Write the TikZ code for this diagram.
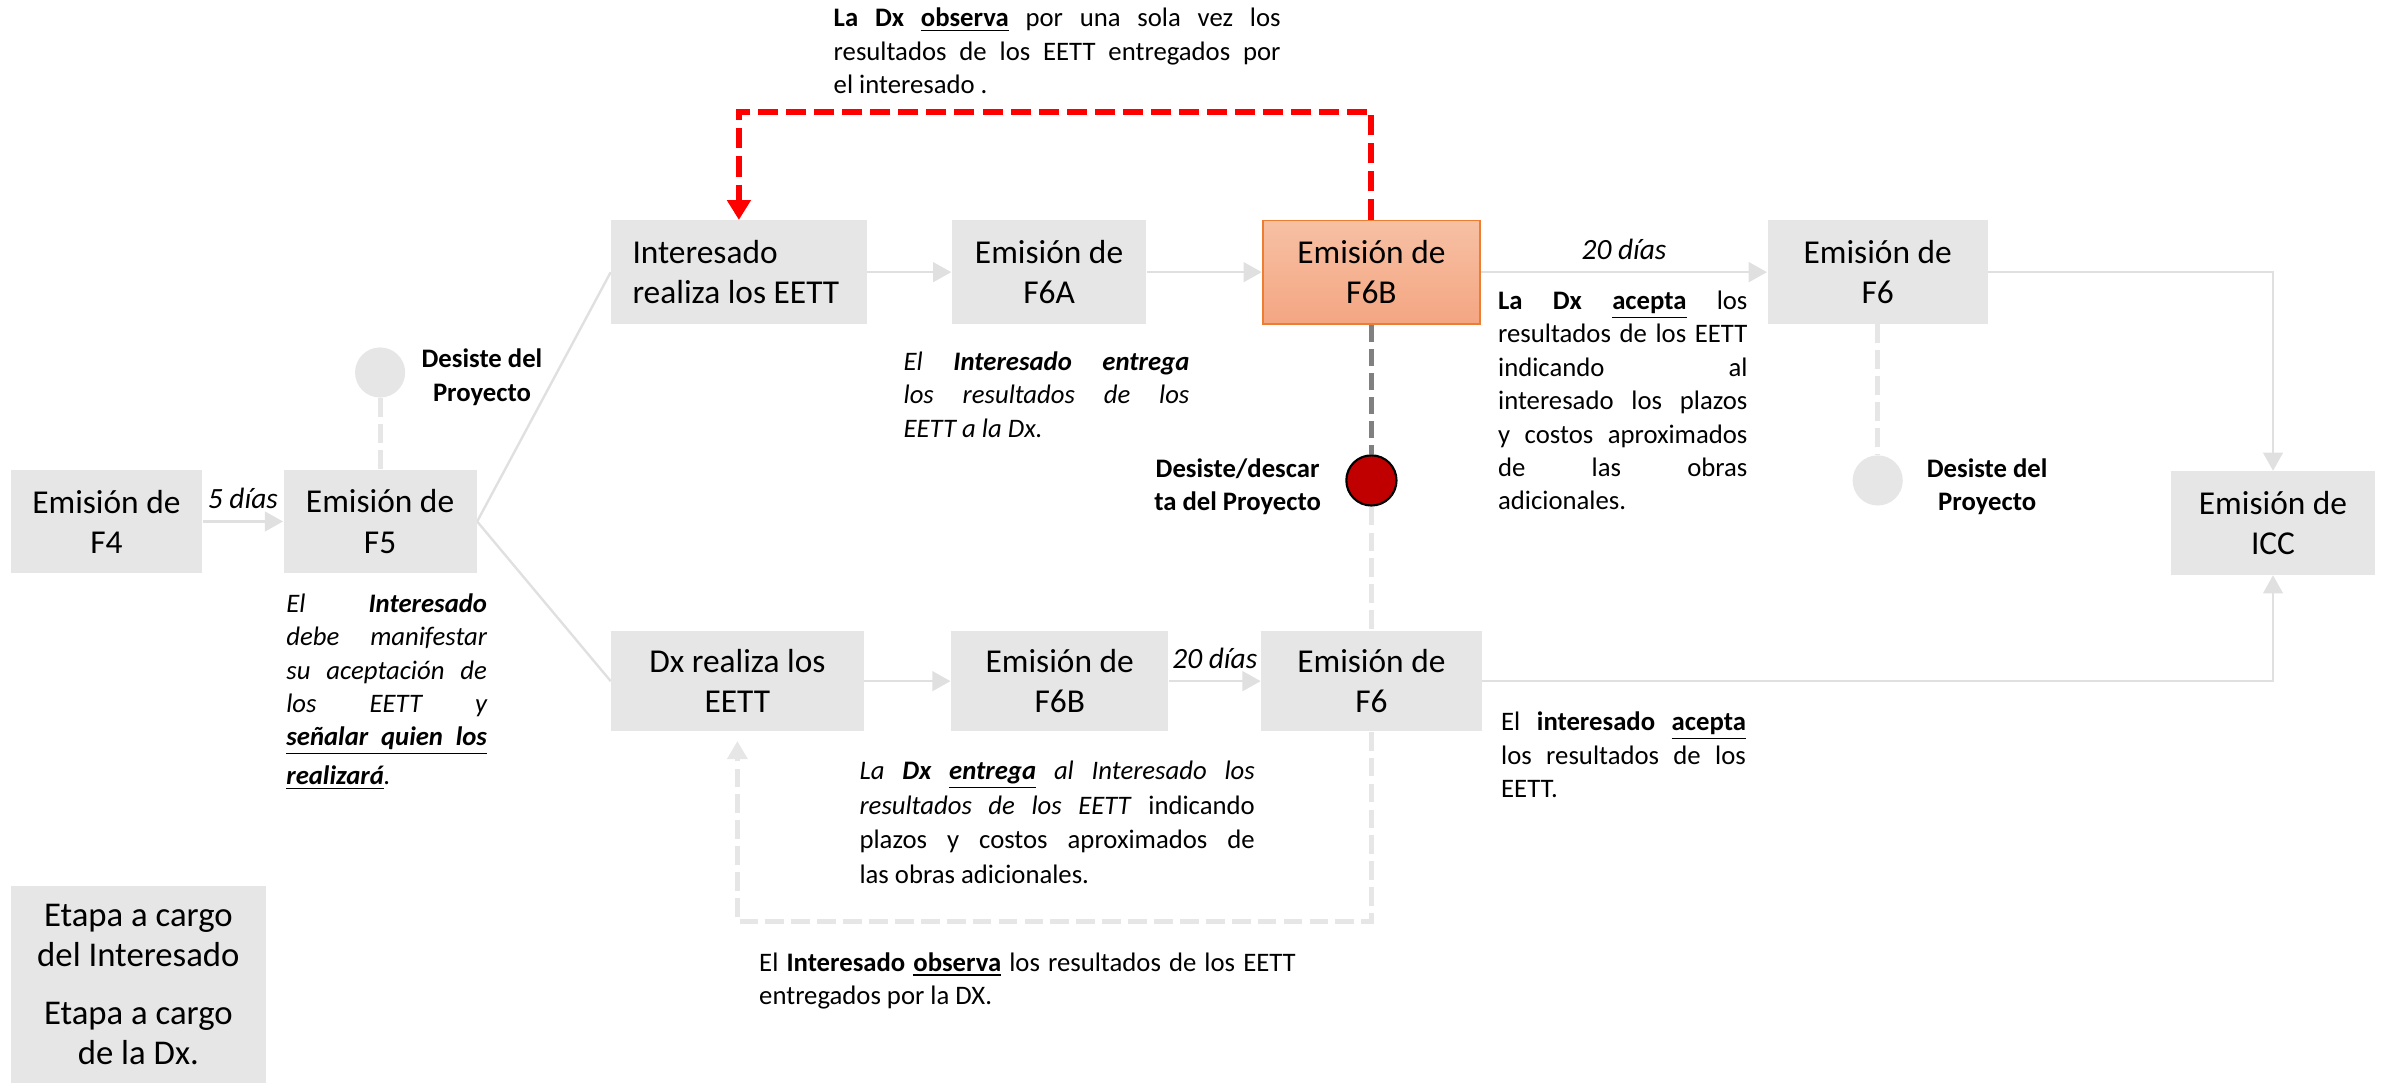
\documentclass[tikz,border=0pt]{standalone}
\usepackage{fontspec}
\setmainfont{Carlito}
\usepackage{tikz}
\usetikzlibrary{arrows.meta, shapes}
\pgfdeclarelayer{background}
\pgfsetlayers{background,main}

\definecolor{boxG}{RGB}{230,230,230}
\definecolor{lineG}{RGB}{224,224,224}
\definecolor{dashK}{RGB}{128,128,128}
\definecolor{orTop}{RGB}{247,192,164}
\definecolor{orBot}{RGB}{244,166,130}
\definecolor{orLine}{RGB}{237,125,49}
\definecolor{redC}{RGB}{192,0,0}

% one justified line of a note
\newcommand{\jline}[1]{{\spaceskip=0pt\xspaceskip=0pt\makebox[\hsize][s]{#1}}}

\begin{document}
\begin{tikzpicture}[x=0.02cm, y=-0.02cm]

    % Page frame
    \useasboundingbox (0,0) rectangle (1568,712);

    % Stage boxes
    \tikzset{bx/.style={fill=boxG, inner sep=0pt, minimum height=1.36cm, align=flush center, font=\fontsize{12.5}{15}\selectfont}}
    \tikzset{bxO/.style={bx, top color=orTop, bottom color=orBot, draw=orLine, line width=0.7pt}}

    % Notes and labels
    \tikzset{nt/.style={inner sep=0pt, anchor=north west, align=flush left, font=\fontsize{10}{12.5}\selectfont}}
    \tikzset{ntI/.style={nt, font=\fontsize{10}{12.5}\selectfont\itshape}}
    \tikzset{dd/.style={above, yshift=1pt, font=\fontsize{11}{13}\selectfont\itshape}}
    \tikzset{ds/.style={align=flush center, inner sep=0pt, font=\fontsize{10}{12.5}\selectfont\bfseries}}

    % Exit circles
    \tikzset{cG/.style={circle, fill=boxG, minimum size=0.66cm, inner sep=0pt}}
    \tikzset{cR/.style={circle, fill=redC, draw=black, line width=0.8pt, minimum size=0.66cm, inner sep=0pt}}

    % Connectors
    \tikzset{ln/.style={draw=lineG, line width=0.9pt}}
    \tikzset{ar/.style={ln, -{Triangle[length=0.24cm, width=0.26cm]}}}
    \tikzset{dG/.style={draw=boxG, line width=1.8pt, dash pattern=on 7pt off 2.7pt}}
    \tikzset{dK/.style={draw=dashK, line width=2pt, dash pattern=on 6.5pt off 2.5pt}}
    \tikzset{dR/.style={draw=red, line width=2.2pt, dash pattern=on 7.5pt off 3pt, -{Triangle[length=0.26cm, width=0.3cm]}}}

    % Stages
    \node (f4) [bx, minimum width=2.52cm] at (70,343) {Emisión de\\F4};
    \node (f5) [bx, minimum width=2.54cm] at (250,343) {Emisión de\\F5};
    \node (ir) [bx, align=flush left, inner xsep=0.28cm, text width=2.8cm] at (486,179) {Interesado\\realiza los EETT};
    \node (f6a) [bx, minimum width=2.56cm] at (690,179) {Emisión de\\F6A};
    \node (f6bt) [bxO, minimum width=2.86cm] at (902,179) {Emisión de\\F6B};
    \node (f6t) [bx, minimum width=2.9cm] at (1235,179) {Emisión de\\F6};
    \node (icc) [bx, minimum width=2.68cm] at (1495,344) {Emisión de\\ICC};
    \node (dx) [bx, minimum width=3.32cm, minimum height=1.32cm] at (485,448) {Dx realiza los\\EETT};
    \node (f6bb) [bx, minimum width=2.86cm, minimum height=1.32cm] at (697,448) {Emisión de\\F6B};
    \node (f6b) [bx, minimum width=2.9cm, minimum height=1.32cm] at (902,448) {Emisión de\\F6};

    % Legend
    \node (lgI) [bx, minimum width=3.36cm, minimum height=1.28cm, font=\fontsize{13}{15}\selectfont] at (91,615) {Etapa a cargo\\del Interesado};
    \node (lgD) [bx, minimum width=3.36cm, minimum height=1.3cm, font=\fontsize{13}{15}\selectfont] at (91,680) {Etapa a cargo\\de la Dx.};

    % Exits
    \node (c5) [cG] at (250,245) {};
    \node (c6) [cG] at (1235,316) {};
    \node (cr) [cR] at (902,316) {};
    \node (t5) [ds] at (317,248) {Desiste del\\Proyecto};
    \node (t6) [ds] at (1307,320) {Desiste del\\Proyecto};
    \node (tr) [ds] at (814,320) {Desiste/descar\\ta del Proyecto};

    % Notes
    \node (nObs) [nt, text width=5.88cm] at (548,5) {%
        \jline{\textbf{La Dx \underline{observa}} por una sola vez los}\\
        \jline{resultados de los EETT entregados por}\\
        el interesado .};
    \node (nF5) [ntI, text width=2.64cm] at (188,390) {%
        \jline{El \textbf{Interesado}}\\
        \jline{debe manifestar}\\
        \jline{su aceptación de}\\
        \jline{los EETT y}\\
        \underline{\jline{\textbf{señalar quien los}}}\\[2pt]
        \underline{\textbf{realizará}}.};
    \node (nF6A) [ntI, text width=3.76cm] at (594,231) {%
        \jline{El \textbf{Interesado entrega}}\\
        \jline{los resultados de los}\\
        EETT a la Dx.};
    \node (nAc) [nt, text width=3.28cm] at (985,191) {%
        \jline{\textbf{La Dx \underline{acepta}} los}\\
        \jline{resultados de los EETT}\\
        \jline{indicando al}\\
        \jline{interesado los plazos}\\
        \jline{y costos aproximados}\\
        \jline{de las obras}\\
        adicionales.};
    \node (nEn) [nt, text width=5.2cm, font=\fontsize{10}{13}\selectfont] at (565,500) {%
        \jline{\itshape La \textbf{Dx \underline{entrega}} al Interesado los}\\
        \jline{\textit{resultados de los EETT} indicando}\\
        \jline{plazos y costos aproximados de}\\
        las obras adicionales.};
    \node (nIa) [nt, text width=3.22cm] at (987,468) {%
        \jline{El \textbf{interesado \underline{acepta}}}\\
        \jline{los resultados de los}\\
        EETT.};
    \node (nIo) [nt, text width=7.06cm] at (499,626) {%
        \jline{El \textbf{Interesado \underline{observa}} los resultados de los EETT}\\
        entregados por la DX.};

    % Background connectors
    \begin{pgfonlayer}{background}

        % Main flow
        \path[ar] (f4) -- node[dd] {5 días} (f5);
            \path[ln] (f5.east) -- (ir.west);
                \path[ar] (ir) -- (f6a);
                \path[ar] (f6a) -- (f6bt);
                \path[ar] (f6bt) -- node[dd] {20 días} (f6t);
                \path[ar] (f6t.east) -| (icc.north);
            \path[ln] (f5.east) -- (dx.west);
                \path[ar] (dx) -- (f6bb);
                \path[ar] (f6bb) -- node[dd] {20 días} (f6b);
                \path[ar] (f6b.east) -| (icc.south);

        % Exits and loops
        \path[dG] (c5) -- (f5);
        \path[dG] (f6t) -- (c6);
        \path[dK] (f6bt) -- (cr);
        \path[dG] (cr) -- (f6b);
        \path[dG, -{Triangle[length=0.24cm, width=0.26cm]}] (f6b.south) -- ++(0,125) -| ([yshift=-0.12cm]dx.south);
        \path[dR] (f6bt.north) -- ++(0,-71) -| (ir.north);

    \end{pgfonlayer}

\end{tikzpicture}
\end{document}
